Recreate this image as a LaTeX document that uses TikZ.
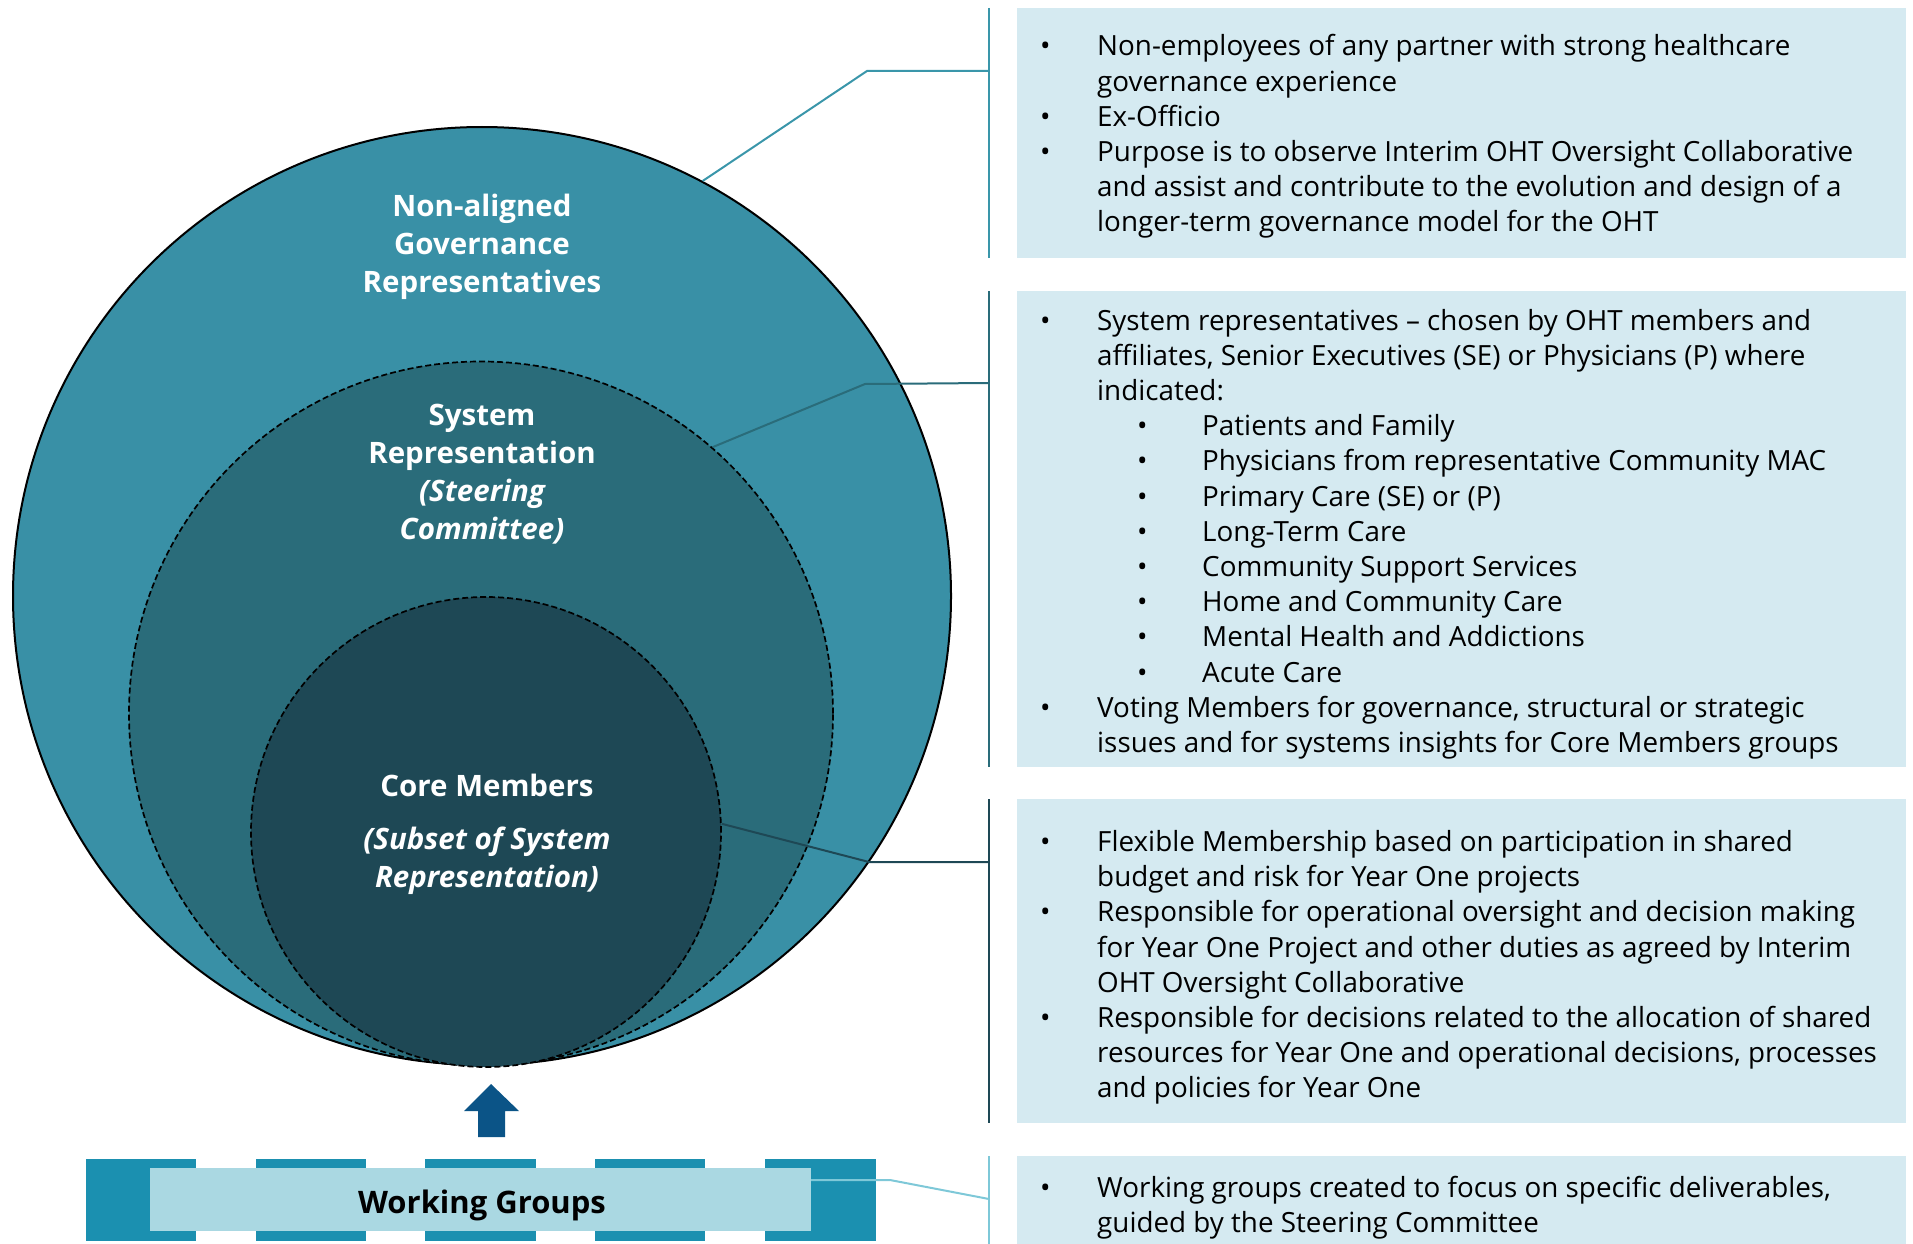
\documentclass[tikz,border=0pt]{standalone}
\usepackage{fontspec}
\setmainfont{Open Sans}
\usetikzlibrary{calc}
\definecolor{cOuter}{RGB}{57,144,166}
\definecolor{cSys}{RGB}{42,108,122}
\definecolor{cCore}{RGB}{30,72,85}
\definecolor{cPanel}{RGB}{213,234,241}
\definecolor{cDash}{RGB}{27,144,176}
\definecolor{cInner}{RGB}{170,216,226}
\definecolor{cArrow}{RGB}{11,84,135}
\definecolor{cLight}{RGB}{126,200,216}
\definecolor{cLine1}{RGB}{58,150,170}
\newcommand\bul{\makebox[57pt][l]{\textbullet}}
\newcommand\ind{\hspace*{57pt}}
\newcommand\subbul{\hspace*{97pt}\makebox[65pt][l]{\textbullet}}
\newcommand\paneltext[1]{\parbox[t]{880pt}{\fontsize{27.8}{35.2}\selectfont #1}}
\newcommand\circtext[1]{\parbox[t]{420pt}{\fontsize{29.5}{38}\selectfont\bfseries\centering #1\par}}
\begin{document}
\begin{tikzpicture}[x=1pt,y=-1pt,
  ring/.style={circle,inner sep=0pt},
  dashring/.style={ring,draw=black,line width=1.7pt,dash pattern=on 6pt off 3pt},
  panel/.style={fill=cPanel,draw=none},
  vline/.style={line width=2.5pt},
  conn/.style={line width=2pt},
  txt/.style={anchor=base west,inner sep=0pt,text=black},
  ctxt/.style={anchor=base,inner sep=0pt,text=white},
  dashseg/.style={fill=cDash,draw=none}]
\useasboundingbox (0,0) rectangle (1913,1244);
% circles
\node[ring,fill=cOuter,draw=black,line width=2pt,minimum size=938pt] (outer) at (482,596) {};
\node[dashring,fill=cSys,minimum size=704pt] (sys) at (481,713.5) {};
\node[dashring,fill=cCore,minimum size=470pt] (core) at (486,832) {};
% circle labels
\node[ctxt] (lblouter) at (482,216.7) {\circtext{Non-aligned\\Governance\\Representatives}};
\node[ctxt] (lblsys) at (482,425) {\circtext{System\\Representation\\\itshape(Steering\\Committee)}};
\node[ctxt] (lblcore) at (487,796.7) {\circtext{Core Members\\[15pt]\itshape(Subset of System\\Representation)}};
% panels
\fill[panel] (1017,8) rectangle (1906,258);
\fill[panel] (1017,291) rectangle (1906,767);
\fill[panel] (1017,799) rectangle (1906,1123);
\fill[panel] (1017,1156) rectangle (1906,1244);
% vertical lines
\coordinate (v1t) at (989,8); \coordinate (v1b) at (989,258);
\coordinate (v2t) at (989,291); \coordinate (v2b) at (989,767);
\coordinate (v3t) at (989,799); \coordinate (v3b) at (989,1123);
\coordinate (v4t) at (989,1156); \coordinate (v4b) at (989,1244);
\draw[vline,cLine1] (v1t) -- (v1b);
\draw[vline,cSys] (v2t) -- (v2b);
\draw[vline,cCore] (v3t) -- (v3b);
\draw[vline,cLight] (v4t) -- (v4b);
% connectors
\coordinate (e1) at (867,71); \coordinate (m1) at (989,71);
\coordinate (e2) at (865,384); \coordinate (m2) at (989,383);
\coordinate (e3) at (869,862); \coordinate (m3) at (989,862);
\coordinate (e4) at (890,1180); \coordinate (m4) at (989,1199);
\draw[conn,cLine1] (outer.62.6) -- (e1) -- (m1);
\draw[conn,cSys] (sys.49) -- (e2) -- (m2);
\draw[conn,cCore] (core.2.4) -- (e3) -- (m3);
% working groups
\fill[dashseg] (86,1159) rectangle (196,1241);
\fill[dashseg] (256,1159) rectangle (366,1241);
\fill[dashseg] (425,1159) rectangle (536,1241);
\fill[dashseg] (595,1159) rectangle (705,1241);
\fill[dashseg] (765,1159) rectangle (876,1241);
\node[fill=cInner,inner sep=0pt,minimum width=661pt,minimum height=63pt] (wg) at (480.5,1199.5) {};
\node[anchor=base,inner sep=0pt,text=black,font=\fontsize{31}{36}\selectfont\bfseries] (wglbl) at (482,1213) {Working Groups};
\draw[conn,cLight] (wg.east |- e4) -- (e4) -- (m4);
% arrow
\fill[cArrow] (491,1084) -- (519,1111) -- (505,1111) -- (505,1137) -- (478,1137) -- (478,1111) -- (464,1111) -- cycle;
% panel texts
\node[txt] (t1) at (1040,56) {\paneltext{%
\bul Non-employees of any partner with strong healthcare\par
\ind governance experience\par
\bul Ex-Officio\par
\bul Purpose is to observe Interim OHT Oversight Collaborative\par
\ind and assist and contribute to the evolution and design of a\par
\ind longer-term governance model for the OHT}};
\node[txt] (t2) at (1040,330) {\paneltext{%
\bul System representatives -- chosen by OHT members and\par
\ind affiliates, Senior Executives (SE) or Physicians (P) where\par
\ind indicated:\par
\subbul Patients and Family\par
\subbul Physicians from representative Community MAC\par
\subbul Primary Care (SE) or (P)\par
\subbul Long-Term Care\par
\subbul Community Support Services\par
\subbul Home and Community Care\par
\subbul Mental Health and Addictions\par
\subbul Acute Care\par
\bul Voting Members for governance, structural or strategic\par
\ind issues and for systems insights for Core Members groups}};
\node[txt] (t3) at (1040,851.5) {\paneltext{%
\bul Flexible Membership based on participation in shared\par
\ind budget and risk for Year One projects\par
\bul Responsible for operational oversight and decision making\par
\ind for Year One Project and other duties as agreed by Interim\par
\ind OHT Oversight Collaborative\par
\bul Responsible for decisions related to the allocation of shared\par
\ind resources for Year One and operational decisions, processes\par
\ind and policies for Year One}};
\node[txt] (t4) at (1040,1197) {\paneltext{%
\bul Working groups created to focus on specific deliverables,\par
\ind guided by the Steering Committee}};
\end{tikzpicture}
\end{document}
